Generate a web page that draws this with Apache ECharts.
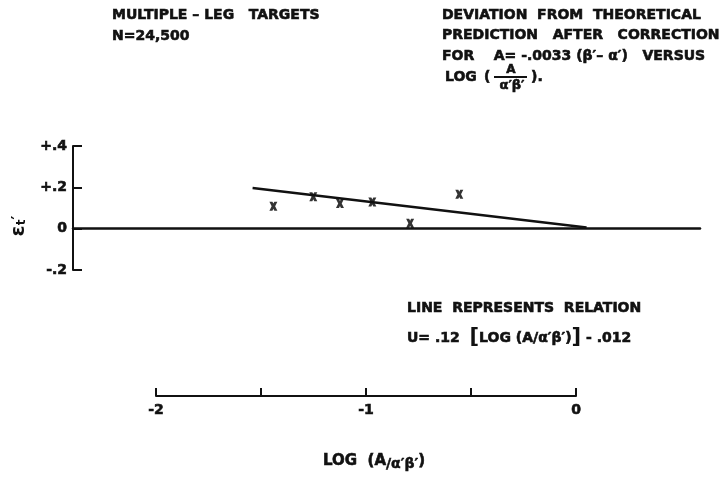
<!DOCTYPE html>
<html>
<head>
<meta charset="utf-8">
<script src="https://cdn.jsdelivr.net/npm/echarts@6/dist/echarts.min.js"></script>
<style>html,body{margin:0;padding:0;background:#fff}#c{width:728px;height:477px}</style>
</head>
<body>
<div id="c"></div>
<script>
// Data
var pointX = [-1.441, -1.251, -1.124, -0.970, -0.790, -0.556];
var pointY = [0.109, 0.155, 0.122, 0.129, 0.026, 0.166];
var lineX = [-1.54, 0.05];
var lineY = [0.197, 0.006];
var yTickValues = [-0.2, 0, 0.2, 0.4];
var yTickLabels = ['-.2', '0', '+.2', '+.4'];
var xTickLabelValues = [-2, -1, 0];
var xTickLabels = ['-2', '-1', '0'];

var FONT = '"DejaVu Sans", sans-serif';
var INK = '#111';

var chart = echarts.init(document.getElementById('c'), null, {renderer: 'canvas'});

function pts(xs, ys) { return xs.map(function (x, i) { return [x, ys[i]]; }); }

var xMark = 'path://M0,0 L3.8,0 L5,2.2 L6.2,0 L10,0 L7.2,5 L10,10 L6.2,10 L5,7.8 L3.8,10 L0,10 L2.8,5 Z';

var txt = function (x, y, s, opts) {
  opts = opts || {};
  return {
    type: 'text', x: x, y: y,
    style: Object.assign({text: s, fill: INK, font: 'bold 14px ' + FONT, textVerticalAlign: 'middle',
      stroke: INK, lineWidth: 0.6}, opts)
  };
};

var option = {
  backgroundColor: '#fff',
  animation: false,
  grid: [
    {left: 73, right: 28, top: 146, height: 124},
    {left: 156, right: 152, top: 380, height: 16}
  ],
  xAxis: [
    {
      gridIndex: 0, type: 'value', min: -2.395, max: 0.590,
      axisLine: {show: true, onZero: true, lineStyle: {color: INK, width: 2.5}},
      axisTick: {show: false}, axisLabel: {show: false}, splitLine: {show: false}
    },
    {
      gridIndex: 1, type: 'value', min: -2, max: 0, interval: 0.5, position: 'bottom',
      axisLine: {show: true, onZero: false, lineStyle: {color: INK, width: 2}},
      axisTick: {show: true, inside: true, length: 8, lineStyle: {color: INK, width: 2}},
      axisLabel: {
        show: true, margin: 7, color: INK, fontSize: 14, fontWeight: 'bold', fontFamily: FONT,
        textBorderColor: INK, textBorderWidth: 0.6,
        formatter: function (v) {
          var i = xTickLabelValues.indexOf(Math.round(v * 100) / 100);
          return i >= 0 ? xTickLabels[i] : '';
        }
      },
      splitLine: {show: false}
    }
  ],
  yAxis: [
    {
      gridIndex: 0, type: 'value', min: -0.2, max: 0.4, interval: 0.2,
      axisLine: {show: true, onZero: false, lineStyle: {color: INK, width: 2}},
      axisTick: {show: true, inside: true, length: 9, lineStyle: {color: INK, width: 2}},
      axisLabel: {
        show: true, margin: 6, color: INK, fontSize: 14, fontWeight: 'bold', fontFamily: FONT,
        textBorderColor: INK, textBorderWidth: 0.6,
        formatter: function (v) {
          var r = Math.round(v * 10) / 10;
          for (var i = 0; i < yTickValues.length; i++) {
            if (Math.abs(yTickValues[i] - r) < 1e-6) return yTickLabels[i];
          }
          return '';
        }
      },
      splitLine: {show: false}
    },
    {
      gridIndex: 1, type: 'value', min: 0, max: 1, show: false
    }
  ],
  series: [
    {
      type: 'line', xAxisIndex: 0, yAxisIndex: 0, data: pts(lineX, lineY),
      symbol: 'none', lineStyle: {color: INK, width: 2.5}
    },
    {
      type: 'scatter', xAxisIndex: 0, yAxisIndex: 0, data: pts(pointX, pointY),
      symbol: xMark, symbolSize: [8, 9], itemStyle: {color: '#000'}
    }
  ],
  graphic: [
    txt(112, 15, 'MULTIPLE – LEG   TARGETS'),
    txt(112, 36, 'N=24,500'),
    txt(442, 15, 'DEVIATION  FROM  THEORETICAL'),
    txt(442, 35, 'PREDICTION   AFTER   CORRECTION'),
    txt(442, 56, 'FOR    A= -.0033 (β\u2032– α\u2032)   VERSUS'),
    txt(445, 77, 'LOG'),
    txt(484, 77, '('),
    txt(511, 70, 'A', {font: 'bold 12px ' + FONT, textAlign: 'center'}),
    {type: 'line', shape: {x1: 494, y1: 77, x2: 527, y2: 77}, style: {stroke: INK, lineWidth: 2}},
    txt(512, 86, 'α\u2032β\u2032', {font: 'bold 13px ' + FONT, textAlign: 'center'}),
    txt(531, 77, ').'),
    txt(407, 308, 'LINE  REPRESENTS  RELATION'),
    {
      type: 'text', x: 407, y: 338,
      style: {
        text: '{a|U= .12  }{b|[}{a|LOG (A/α\u2032β\u2032)}{b|]}{a| - .012}',
        textVerticalAlign: 'middle',
        rich: {
          a: {font: 'bold 14px ' + FONT, fill: INK, stroke: INK, lineWidth: 0.6},
          b: {font: 'bold 21px ' + FONT, fill: INK}
        }
      }
    },
    {
      type: 'text', x: 323, y: 461,
      style: {
        text: '{a|LOG  (A}{s|/α\u2032β\u2032}{a|)}',
        textVerticalAlign: 'middle',
        rich: {
          a: {font: 'bold 15px ' + FONT, fill: INK, stroke: INK, lineWidth: 0.6},
          s: {font: 'bold 14px ' + FONT, fill: INK, stroke: INK, lineWidth: 0.5, padding: [6, 0, 0, 0]}
        }
      }
    },
    {
      type: 'text', x: 19, y: 226, rotation: Math.PI / 2,
      style: {
        text: '{e|ε}{t|t}{p|\u2032}',
        textAlign: 'center', textVerticalAlign: 'middle',
        rich: {
          e: {font: 'bold 20px ' + FONT, fill: INK},
          t: {font: 'bold 12px ' + FONT, fill: INK, padding: [6, 0, 0, 0]},
          p: {font: 'bold 15px ' + FONT, fill: INK}
        }
      }
    }
  ]
};
chart.setOption(option);
</script>
</body>
</html>
